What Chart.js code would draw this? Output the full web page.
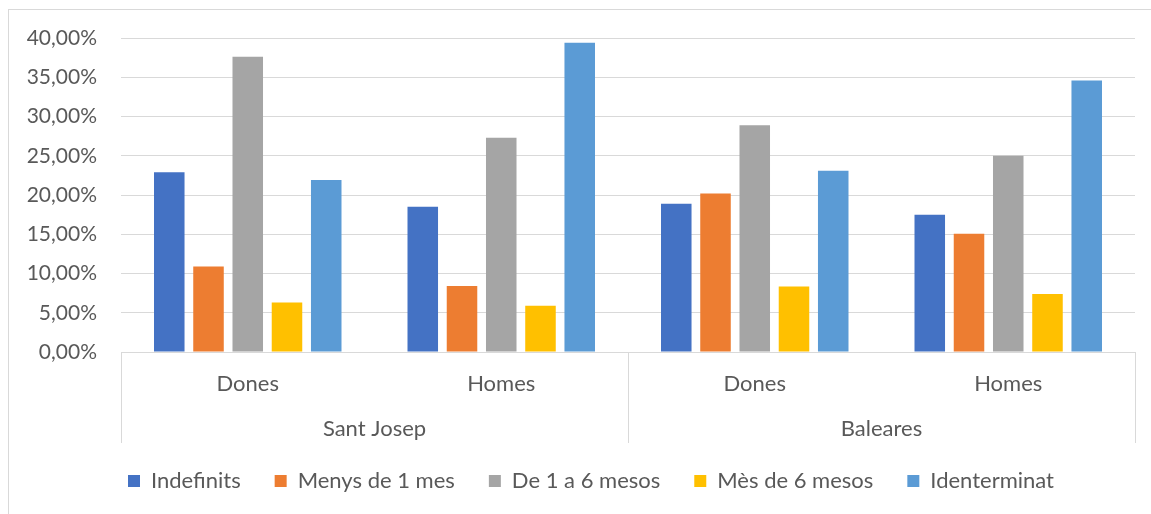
<!DOCTYPE html>
<html><head><meta charset="utf-8">
<script src="https://cdn.jsdelivr.net/npm/chart.js@4"></script>
<style>
html,body{margin:0;padding:0;background:#fff;overflow:hidden;width:1151px;height:514px}
#frame{position:absolute;left:8px;top:9px;width:1300px;height:700px;border:1px solid #d9d9d9}
#wrap{position:absolute;left:0;top:0;width:1151px;height:514px}
</style></head><body>
<div id="frame"></div>
<div id="wrap"><canvas id="c"></canvas></div>
<script>
const categories = ['Dones', 'Homes', 'Dones', 'Homes'];
const groups = ['Sant Josep', 'Baleares'];
const seriesNames = ['Indefinits', 'Menys de 1 mes', 'De 1 a 6 mesos', 'Mès de 6 mesos', 'Identerminat'];
const indefinits = [22.9, 18.5, 18.9, 17.5];
const menysDe1Mes = [10.9, 8.4, 20.2, 15.05];
const de1a6Mesos = [37.6, 27.3, 28.9, 25.0];
const mesDe6Mesos = [6.3, 5.9, 8.35, 7.4];
const identerminat = [21.9, 39.4, 23.1, 34.6];
const yMin = 0, yMax = 40, yStep = 5;

const colors = ['#4472C4', '#ED7D31', '#A5A5A5', '#FFC000', '#5B9BD5'];
const seriesData = [indefinits, menysDe1Mes, de1a6Mesos, mesDe6Mesos, identerminat];
const FONT = 'Lato';
const TXT = '#595959';
const GRID = '#d9d9d9';

const separators = {
  id: 'separators',
  afterLayout(chart) {
    const lg = chart.legend;
    if (lg) {
      const h = lg.bottom - lg.top;
      lg.left = 47;
      lg.top = 436;
      lg.bottom = 436 + h;
      if (lg.adjustHitBoxes) lg.adjustHitBoxes();
    }
  },
  afterDraw(chart) {
    const {ctx, chartArea, scales} = chart;
    const x = scales.x;
    const mid = (x.getPixelForValue(1) + x.getPixelForValue(2)) / 2;
    const top = chartArea.bottom;
    const bottom = scales.x2.top + 45;
    ctx.save();
    ctx.strokeStyle = GRID;
    ctx.lineWidth = 1;
    [chartArea.left, mid, chartArea.right].forEach(px => {
      const p = Math.round(px) + 0.5;
      ctx.beginPath();
      ctx.moveTo(p, top);
      ctx.lineTo(p, bottom);
      ctx.stroke();
    });
    ctx.restore();
  }
};

new Chart(document.getElementById('c'), {
  type: 'bar',
  data: {
    labels: categories,
    datasets: seriesNames.map((n, i) => ({
      label: n,
      data: seriesData[i],
      backgroundColor: colors[i],
      borderWidth: 0,
      categoryPercentage: 0.774,
      barPercentage: 0.778
    }))
  },
  options: {
    responsive: true,
    maintainAspectRatio: false,
    animation: false,
    layout: {padding: {top: 38, right: 16, left: 0, bottom: 0}},
    plugins: {
      tooltip: {enabled: false},
      legend: {
        position: 'bottom',
        labels: {
          boxWidth: 12, boxHeight: 12, padding: 34,
          color: TXT, font: {family: FONT, size: 22}
        }
      }
    },
    scales: {
      y: {
        min: yMin, max: yMax,
        ticks: {
          stepSize: yStep, color: TXT, padding: 24,
          font: {family: FONT, size: 21},
          callback: v => v.toFixed(2).replace('.', ',') + '%'
        },
        grid: {color: GRID, lineWidth: 1, drawTicks: false},
        border: {display: false},
        afterFit: s => { s.width = 121; }
      },
      x: {
        ticks: {color: TXT, padding: 11, font: {family: FONT, size: 22}},
        grid: {display: false},
        border: {display: true, color: GRID, width: 1},
        afterFit: s => { s.height = 46; }
      },
      x2: {
        type: 'category',
        position: 'bottom',
        labels: groups,
        offset: true,
        ticks: {color: TXT, padding: 10, font: {family: FONT, size: 22}},
        grid: {display: false},
        border: {display: false},
        afterFit: s => { s.height = 50; }
      }
    }
  },
  plugins: [separators]
});
</script>
</body></html>
